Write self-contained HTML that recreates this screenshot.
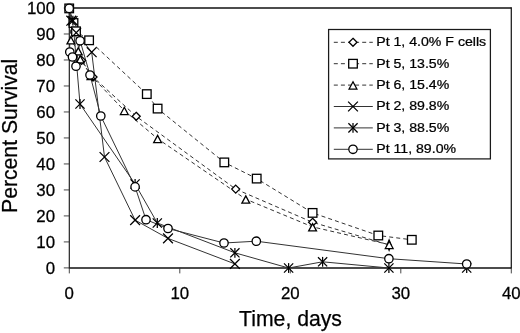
<!DOCTYPE html>
<html><head><meta charset="utf-8"><title>chart</title>
<style>
html,body{margin:0;padding:0;background:#fff;}
body{width:520px;height:333px;position:relative;overflow:hidden;}
svg text{font-family:"Liberation Sans",sans-serif;fill:#000;stroke:#000;stroke-width:0.25px;}
</style></head><body>
<svg width="520" height="333" viewBox="0 0 520 333" style="position:absolute;left:0;top:0;will-change:transform"><rect x="0" y="0" width="520" height="333" fill="#fff"/><line x1="69.3" y1="7.3" x2="69.3" y2="268.59999999999997" stroke="#1a1a1a" stroke-width="1.15"/><line x1="511.3" y1="7.3" x2="511.3" y2="268.59999999999997" stroke="#1a1a1a" stroke-width="1.25"/><line x1="69.3" y1="8.0" x2="511.3" y2="8.0" stroke="#111" stroke-width="1.4"/><line x1="69.3" y1="267.9" x2="511.3" y2="267.9" stroke="#111" stroke-width="1.45"/><line x1="63.8" y1="267.90" x2="69.3" y2="267.90" stroke="#333" stroke-width="0.9"/><line x1="63.8" y1="241.91" x2="69.3" y2="241.91" stroke="#333" stroke-width="0.9"/><line x1="63.8" y1="215.92" x2="69.3" y2="215.92" stroke="#333" stroke-width="0.9"/><line x1="63.8" y1="189.93" x2="69.3" y2="189.93" stroke="#333" stroke-width="0.9"/><line x1="63.8" y1="163.94" x2="69.3" y2="163.94" stroke="#333" stroke-width="0.9"/><line x1="63.8" y1="137.95" x2="69.3" y2="137.95" stroke="#333" stroke-width="0.9"/><line x1="63.8" y1="111.96" x2="69.3" y2="111.96" stroke="#333" stroke-width="0.9"/><line x1="63.8" y1="85.97" x2="69.3" y2="85.97" stroke="#333" stroke-width="0.9"/><line x1="63.8" y1="59.98" x2="69.3" y2="59.98" stroke="#333" stroke-width="0.9"/><line x1="63.8" y1="33.99" x2="69.3" y2="33.99" stroke="#333" stroke-width="0.9"/><line x1="63.8" y1="8.00" x2="69.3" y2="8.00" stroke="#333" stroke-width="0.9"/><line x1="69.30" y1="267.9" x2="69.30" y2="273.4" stroke="#333" stroke-width="0.9"/><line x1="179.80" y1="267.9" x2="179.80" y2="273.4" stroke="#333" stroke-width="0.9"/><line x1="290.30" y1="267.9" x2="290.30" y2="273.4" stroke="#333" stroke-width="0.9"/><line x1="400.80" y1="267.9" x2="400.80" y2="273.4" stroke="#333" stroke-width="0.9"/><line x1="511.30" y1="267.9" x2="511.30" y2="273.4" stroke="#333" stroke-width="0.9"/><polyline points="69.20,8.40 81.60,60.40 93.00,77.00 136.20,116.30 235.70,189.10 312.60,222.30 389.10,244.90" fill="none" stroke="#333" stroke-width="1.0" stroke-dasharray="4.0 3.1"/><polyline points="69.20,8.40 73.50,23.00 76.00,31.30 89.10,40.30 146.80,94.10 157.60,108.60 224.30,162.40 256.70,178.60 312.60,212.90 378.30,235.50 411.80,239.80" fill="none" stroke="#333" stroke-width="1.0" stroke-dasharray="4.0 3.1"/><polyline points="69.20,8.40 70.90,40.00 78.30,51.00 80.30,59.00 91.00,75.60 124.30,110.60 157.60,138.70 245.80,199.20 312.60,226.90 389.20,244.60" fill="none" stroke="#333" stroke-width="1.0" stroke-dasharray="4.0 3.1"/><polyline points="69.20,8.40 71.30,20.70 76.20,32.70 91.70,52.20 104.50,157.00 135.10,220.10 168.00,238.40 234.90,263.90" fill="none" stroke="#333" stroke-width="1.0"/><polyline points="69.20,8.40 72.90,20.70 80.00,104.00 135.10,184.00 157.30,223.00 234.90,252.80 288.60,268.00 322.60,261.80 388.90,268.00 466.70,268.00" fill="none" stroke="#333" stroke-width="1.0"/><polyline points="69.20,8.40 69.80,52.00 72.50,57.00 76.00,66.20 80.10,40.80 90.00,75.00 100.80,116.00 135.10,186.90 146.00,219.70 168.00,228.50 224.00,243.00 256.30,241.20 388.90,258.70 466.70,264.00" fill="none" stroke="#333" stroke-width="1.0"/><path d="M81.60 56.40 L85.60 60.40 L81.60 64.40 L77.60 60.40 Z" fill="#fff" stroke="#000" stroke-width="1.3"/><path d="M93.00 73.00 L97.00 77.00 L93.00 81.00 L89.00 77.00 Z" fill="#fff" stroke="#000" stroke-width="1.3"/><path d="M136.20 112.30 L140.20 116.30 L136.20 120.30 L132.20 116.30 Z" fill="#fff" stroke="#000" stroke-width="1.3"/><path d="M235.70 185.10 L239.70 189.10 L235.70 193.10 L231.70 189.10 Z" fill="#fff" stroke="#000" stroke-width="1.3"/><path d="M312.60 218.30 L316.60 222.30 L312.60 226.30 L308.60 222.30 Z" fill="#fff" stroke="#000" stroke-width="1.3"/><path d="M389.10 240.00 L391.10 244.90 L389.10 250.10 L387.10 244.90 Z" fill="#fff" stroke="#000" stroke-width="1.3"/><rect x="64.90" y="4.10" width="8.60" height="8.60" fill="#fff" stroke="#000" stroke-width="1.3"/><rect x="69.20" y="18.70" width="8.60" height="8.60" fill="#fff" stroke="#000" stroke-width="1.3"/><rect x="71.70" y="27.00" width="8.60" height="8.60" fill="#fff" stroke="#000" stroke-width="1.3"/><rect x="84.80" y="36.00" width="8.60" height="8.60" fill="#fff" stroke="#000" stroke-width="1.3"/><rect x="142.50" y="89.80" width="8.60" height="8.60" fill="#fff" stroke="#000" stroke-width="1.3"/><rect x="153.30" y="104.30" width="8.60" height="8.60" fill="#fff" stroke="#000" stroke-width="1.3"/><rect x="220.00" y="158.10" width="8.60" height="8.60" fill="#fff" stroke="#000" stroke-width="1.3"/><rect x="252.40" y="174.30" width="8.60" height="8.60" fill="#fff" stroke="#000" stroke-width="1.3"/><rect x="308.30" y="208.60" width="8.60" height="8.60" fill="#fff" stroke="#000" stroke-width="1.3"/><rect x="374.00" y="231.20" width="8.60" height="8.60" fill="#fff" stroke="#000" stroke-width="1.3"/><rect x="407.50" y="235.50" width="8.60" height="8.60" fill="#fff" stroke="#000" stroke-width="1.3"/><path d="M70.90 36.70 L74.80 43.95 L67.00 43.95 Z" fill="#fff" stroke="#000" stroke-width="1.3" stroke-linejoin="miter" stroke-miterlimit="10"/><path d="M78.30 47.70 L82.20 54.95 L74.40 54.95 Z" fill="#fff" stroke="#000" stroke-width="1.3" stroke-linejoin="miter" stroke-miterlimit="10"/><path d="M80.30 55.70 L84.20 62.95 L76.40 62.95 Z" fill="#fff" stroke="#000" stroke-width="1.3" stroke-linejoin="miter" stroke-miterlimit="10"/><path d="M91.00 72.30 L94.90 79.55 L87.10 79.55 Z" fill="#fff" stroke="#000" stroke-width="1.3" stroke-linejoin="miter" stroke-miterlimit="10"/><path d="M124.30 107.30 L128.20 114.55 L120.40 114.55 Z" fill="#fff" stroke="#000" stroke-width="1.3" stroke-linejoin="miter" stroke-miterlimit="10"/><path d="M157.60 135.40 L161.50 142.65 L153.70 142.65 Z" fill="#fff" stroke="#000" stroke-width="1.3" stroke-linejoin="miter" stroke-miterlimit="10"/><path d="M245.80 195.90 L249.70 203.15 L241.90 203.15 Z" fill="#fff" stroke="#000" stroke-width="1.3" stroke-linejoin="miter" stroke-miterlimit="10"/><path d="M312.60 223.60 L316.50 230.85 L308.70 230.85 Z" fill="#fff" stroke="#000" stroke-width="1.3" stroke-linejoin="miter" stroke-miterlimit="10"/><path d="M389.20 241.30 L393.10 248.55 L385.30 248.55 Z" fill="#fff" stroke="#000" stroke-width="1.3" stroke-linejoin="miter" stroke-miterlimit="10"/><path d="M66.40 15.80 L76.20 25.60 M66.40 25.60 L76.20 15.80" fill="none" stroke="#000" stroke-width="1.25"/><path d="M71.30 27.80 L81.10 37.60 M71.30 37.60 L81.10 27.80" fill="none" stroke="#000" stroke-width="1.25"/><path d="M86.80 47.30 L96.60 57.10 M86.80 57.10 L96.60 47.30" fill="none" stroke="#000" stroke-width="1.25"/><path d="M99.60 152.10 L109.40 161.90 M99.60 161.90 L109.40 152.10" fill="none" stroke="#000" stroke-width="1.25"/><path d="M130.20 215.20 L140.00 225.00 M130.20 225.00 L140.00 215.20" fill="none" stroke="#000" stroke-width="1.25"/><path d="M163.10 233.50 L172.90 243.30 M163.10 243.30 L172.90 233.50" fill="none" stroke="#000" stroke-width="1.25"/><path d="M230.00 259.00 L239.80 268.80 M230.00 268.80 L239.80 259.00" fill="none" stroke="#000" stroke-width="1.25"/><path d="M68.30 16.10 L77.50 25.30 M68.30 25.30 L77.50 16.10" fill="none" stroke="#000" stroke-width="1.25"/><path d="M72.90 15.80 L72.90 25.60" fill="none" stroke="#000" stroke-width="1.25"/><path d="M75.40 99.40 L84.60 108.60 M75.40 108.60 L84.60 99.40" fill="none" stroke="#000" stroke-width="1.25"/><path d="M80.00 99.10 L80.00 108.90" fill="none" stroke="#000" stroke-width="1.25"/><path d="M130.50 179.40 L139.70 188.60 M130.50 188.60 L139.70 179.40" fill="none" stroke="#000" stroke-width="1.25"/><path d="M135.10 179.10 L135.10 188.90" fill="none" stroke="#000" stroke-width="1.25"/><path d="M152.70 218.40 L161.90 227.60 M152.70 227.60 L161.90 218.40" fill="none" stroke="#000" stroke-width="1.25"/><path d="M157.30 218.10 L157.30 227.90" fill="none" stroke="#000" stroke-width="1.25"/><path d="M230.30 248.20 L239.50 257.40 M230.30 257.40 L239.50 248.20" fill="none" stroke="#000" stroke-width="1.25"/><path d="M234.90 247.90 L234.90 257.70" fill="none" stroke="#000" stroke-width="1.25"/><path d="M284.00 263.40 L293.20 272.60 M284.00 272.60 L293.20 263.40" fill="none" stroke="#000" stroke-width="1.25"/><path d="M288.60 263.10 L288.60 272.90" fill="none" stroke="#000" stroke-width="1.25"/><path d="M318.00 257.20 L327.20 266.40 M318.00 266.40 L327.20 257.20" fill="none" stroke="#000" stroke-width="1.25"/><path d="M322.60 256.90 L322.60 266.70" fill="none" stroke="#000" stroke-width="1.25"/><path d="M384.30 263.40 L393.50 272.60 M384.30 272.60 L393.50 263.40" fill="none" stroke="#000" stroke-width="1.25"/><path d="M388.90 263.10 L388.90 272.90" fill="none" stroke="#000" stroke-width="1.25"/><path d="M462.10 263.40 L471.30 272.60 M462.10 272.60 L471.30 263.40" fill="none" stroke="#000" stroke-width="1.25"/><path d="M466.70 263.10 L466.70 272.90" fill="none" stroke="#000" stroke-width="1.25"/><circle cx="69.20" cy="8.40" r="4.2" fill="#fff" stroke="#000" stroke-width="1.3"/><circle cx="69.80" cy="52.00" r="4.2" fill="#fff" stroke="#000" stroke-width="1.3"/><circle cx="72.50" cy="57.00" r="4.2" fill="#fff" stroke="#000" stroke-width="1.3"/><circle cx="76.00" cy="66.20" r="4.2" fill="#fff" stroke="#000" stroke-width="1.3"/><circle cx="80.10" cy="40.80" r="4.2" fill="#fff" stroke="#000" stroke-width="1.3"/><circle cx="90.00" cy="75.00" r="4.2" fill="#fff" stroke="#000" stroke-width="1.3"/><circle cx="100.80" cy="116.00" r="4.2" fill="#fff" stroke="#000" stroke-width="1.3"/><circle cx="135.10" cy="186.90" r="4.2" fill="#fff" stroke="#000" stroke-width="1.3"/><circle cx="146.00" cy="219.70" r="4.2" fill="#fff" stroke="#000" stroke-width="1.3"/><circle cx="168.00" cy="228.50" r="4.2" fill="#fff" stroke="#000" stroke-width="1.3"/><circle cx="224.00" cy="243.00" r="4.2" fill="#fff" stroke="#000" stroke-width="1.3"/><circle cx="256.30" cy="241.20" r="4.2" fill="#fff" stroke="#000" stroke-width="1.3"/><circle cx="388.90" cy="258.70" r="4.2" fill="#fff" stroke="#000" stroke-width="1.3"/><circle cx="466.70" cy="264.00" r="4.2" fill="#fff" stroke="#000" stroke-width="1.3"/><rect x="328.6" y="29.5" width="161.79999999999995" height="129.4" fill="#fff" stroke="#1a1a1a" stroke-width="1.25"/><polyline points="333.80,42.30 372.80,42.30" fill="none" stroke="#333" stroke-width="1.0" stroke-dasharray="4.0 3.1"/><path d="M353.00 38.30 L357.00 42.30 L353.00 46.30 L349.00 42.30 Z" fill="#fff" stroke="#000" stroke-width="1.3"/><polyline points="333.80,63.70 372.80,63.70" fill="none" stroke="#333" stroke-width="1.0" stroke-dasharray="4.0 3.1"/><rect x="348.70" y="59.40" width="8.60" height="8.60" fill="#fff" stroke="#000" stroke-width="1.3"/><polyline points="333.80,85.10 372.80,85.10" fill="none" stroke="#333" stroke-width="1.0" stroke-dasharray="4.0 3.1"/><path d="M353.00 81.80 L356.90 89.05 L349.10 89.05 Z" fill="#fff" stroke="#000" stroke-width="1.3" stroke-linejoin="miter" stroke-miterlimit="10"/><polyline points="333.80,106.50 372.80,106.50" fill="none" stroke="#333" stroke-width="1.0"/><path d="M348.10 101.60 L357.90 111.40 M348.10 111.40 L357.90 101.60" fill="none" stroke="#000" stroke-width="1.25"/><polyline points="333.80,127.90 372.80,127.90" fill="none" stroke="#333" stroke-width="1.0"/><path d="M348.40 123.30 L357.60 132.50 M348.40 132.50 L357.60 123.30" fill="none" stroke="#000" stroke-width="1.25"/><path d="M353.00 123.00 L353.00 132.80" fill="none" stroke="#000" stroke-width="1.25"/><polyline points="333.80,149.30 372.80,149.30" fill="none" stroke="#333" stroke-width="1.0"/><circle cx="353.00" cy="149.30" r="4.2" fill="#fff" stroke="#000" stroke-width="1.3"/><text transform="translate(55.00,273.70) scale(1.04,1)" font-size="16.2" text-anchor="end">0</text><text transform="translate(55.00,247.71) scale(1.04,1)" font-size="16.2" text-anchor="end">10</text><text transform="translate(55.00,221.72) scale(1.04,1)" font-size="16.2" text-anchor="end">20</text><text transform="translate(55.00,195.73) scale(1.04,1)" font-size="16.2" text-anchor="end">30</text><text transform="translate(55.00,169.74) scale(1.04,1)" font-size="16.2" text-anchor="end">40</text><text transform="translate(55.00,143.75) scale(1.04,1)" font-size="16.2" text-anchor="end">50</text><text transform="translate(55.00,117.76) scale(1.04,1)" font-size="16.2" text-anchor="end">60</text><text transform="translate(55.00,91.77) scale(1.04,1)" font-size="16.2" text-anchor="end">70</text><text transform="translate(55.00,65.78) scale(1.04,1)" font-size="16.2" text-anchor="end">80</text><text transform="translate(55.00,39.79) scale(1.04,1)" font-size="16.2" text-anchor="end">90</text><text transform="translate(55.00,13.80) scale(1.04,1)" font-size="16.2" text-anchor="end">100</text><text transform="translate(69.30,299.00) scale(1.04,1)" font-size="16.2" text-anchor="middle">0</text><text transform="translate(179.80,299.00) scale(1.04,1)" font-size="16.2" text-anchor="middle">10</text><text transform="translate(290.30,299.00) scale(1.04,1)" font-size="16.2" text-anchor="middle">20</text><text transform="translate(400.80,299.00) scale(1.04,1)" font-size="16.2" text-anchor="middle">30</text><text transform="translate(511.30,299.00) scale(1.04,1)" font-size="16.2" text-anchor="middle">40</text><text transform="translate(239.10,326.30) scale(1.0,1)" font-size="21.2" text-anchor="start">Time, days</text><text transform="translate(16.5,213) rotate(-90)" font-size="21.2">Percent Survival</text><text transform="translate(376.20,46.20) scale(1.063,1)" font-size="13.3" text-anchor="start">Pt 1, 4.0% F cells</text><text transform="translate(376.20,67.60) scale(1.063,1)" font-size="13.3" text-anchor="start">Pt 5, 13.5%</text><text transform="translate(376.20,89.00) scale(1.063,1)" font-size="13.3" text-anchor="start">Pt 6, 15.4%</text><text transform="translate(376.20,110.40) scale(1.063,1)" font-size="13.3" text-anchor="start">Pt 2, 89.8%</text><text transform="translate(376.20,131.80) scale(1.063,1)" font-size="13.3" text-anchor="start">Pt 3, 88.5%</text><text transform="translate(376.20,153.20) scale(1.063,1)" font-size="13.3" text-anchor="start">Pt 11, 89.0%</text></svg>
</body></html>
